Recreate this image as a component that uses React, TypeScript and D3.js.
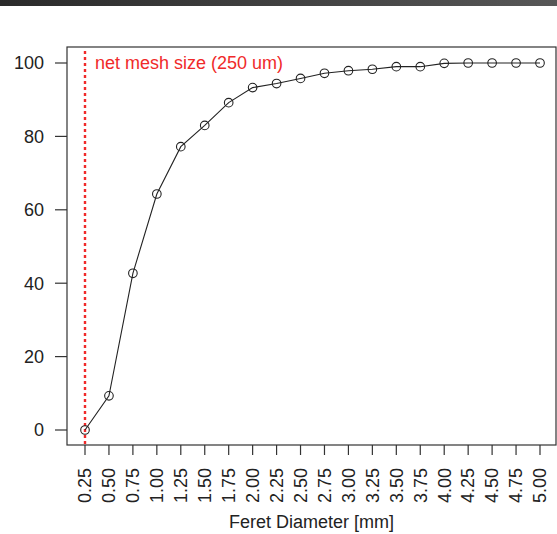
import * as d3 from 'd3';
import React, { useEffect, useRef } from 'react';

const diameters = [0.25, 0.5, 0.75, 1.0, 1.25, 1.5, 1.75, 2.0, 2.25, 2.5, 2.75, 3.0, 3.25, 3.5, 3.75, 4.0, 4.25, 4.5, 4.75, 5.0];
const cumulative = [0, 9.3, 42.7, 64.3, 77.2, 83.0, 89.2, 93.3, 94.4, 95.8, 97.2, 97.9, 98.3, 99.0, 99.0, 99.9, 100, 100, 100, 100];
const yTicks = [0, 20, 40, 60, 80, 100];
const meshSize = 0.25;
const meshLabel = 'net mesh size (250 um)';
const xTitle = 'Feret Diameter [mm]';

const App: React.FC = () => {
  const ref = useRef<SVGSVGElement>(null);

  useEffect(() => {
    if (!ref.current) return;
    const width = 557;
    const height = 534;
    const box = { left: 67, right: 556, top: 47, bottom: 445 };

    const svg = d3.select(ref.current);
    svg.selectAll('*').remove();
    svg.attr('width', width).attr('height', height);

    // dark strip along the top of the screenshot
    const grad = svg.append('defs').append('linearGradient').attr('id', 'topbar');
    grad.append('stop').attr('offset', '0%').attr('stop-color', '#2a2a2a');
    grad.append('stop').attr('offset', '100%').attr('stop-color', '#575757');
    svg.append('rect').attr('x', 0).attr('y', 0).attr('width', width).attr('height', 6).attr('fill', 'url(#topbar)');

    const x = d3.scaleLinear().domain([0.25, 5.0]).range([85, 540]);
    const y = d3.scaleLinear().domain([0, 100]).range([430, 63]);

    const font = '"Liberation Sans", Arial, sans-serif';
    const fs = '18px';

    // plot box
    svg.append('rect')
      .attr('x', box.left).attr('y', box.top)
      .attr('width', box.right - box.left).attr('height', box.bottom - box.top)
      .attr('fill', 'none').attr('stroke', '#333').attr('stroke-width', 1.2);

    // y axis
    const ya = svg.append('g');
    ya.selectAll('line').data(yTicks).enter().append('line')
      .attr('x1', 55).attr('x2', box.left)
      .attr('y1', d => y(d)).attr('y2', d => y(d))
      .attr('stroke', '#333').attr('stroke-width', 1.2);
    ya.selectAll('text').data(yTicks).enter().append('text')
      .attr('x', 44).attr('y', d => y(d)).attr('dy', '0.35em')
      .attr('text-anchor', 'end')
      .style('font-family', font).style('font-size', fs).attr('fill', '#222')
      .text(d => d);

    // x axis
    const xa = svg.append('g');
    xa.selectAll('line').data(diameters).enter().append('line')
      .attr('x1', d => x(d)).attr('x2', d => x(d))
      .attr('y1', box.bottom).attr('y2', 455)
      .attr('stroke', '#333').attr('stroke-width', 1.2);
    xa.selectAll('text').data(diameters).enter().append('text')
      .attr('transform', d => `translate(${x(d)},468) rotate(-90)`)
      .attr('dy', '0.35em')
      .attr('text-anchor', 'end')
      .style('font-family', font).style('font-size', fs).attr('fill', '#222')
      .text(d => d3.format('.2f')(d));

    svg.append('text')
      .attr('x', (box.left + box.right) / 2).attr('y', 528)
      .attr('text-anchor', 'middle')
      .style('font-family', font).style('font-size', fs).attr('fill', '#222')
      .text(xTitle);

    // mesh size line
    svg.append('line')
      .attr('x1', x(meshSize)).attr('x2', x(meshSize))
      .attr('y1', box.top + 1).attr('y2', box.bottom)
      .attr('stroke', '#f02a2a').attr('stroke-width', 2.4)
      .attr('stroke-dasharray', '3,3').attr('stroke-dashoffset', -3);
    svg.append('text')
      .attr('x', 95).attr('y', 69)
      .style('font-family', font).style('font-size', fs).attr('fill', '#f02a2a')
      .text(meshLabel);

    // curve
    const pts = diameters.map((d, i) => [d, cumulative[i]] as [number, number]);
    const line = d3.line<[number, number]>().x(d => x(d[0])).y(d => y(d[1]));
    svg.append('path').datum(pts)
      .attr('d', line)
      .attr('fill', 'none').attr('stroke', '#222').attr('stroke-width', 1.1);
    svg.selectAll('circle.pt').data(pts).enter().append('circle')
      .attr('class', 'pt')
      .attr('cx', d => x(d[0])).attr('cy', d => y(d[1]))
      .attr('r', 4.3)
      .attr('fill', 'none').attr('stroke', '#222').attr('stroke-width', 1.1);
  }, []);

  return <svg ref={ref} style={{ position: 'absolute', left: 0, top: 0, display: 'block' }} />;
};

export default App;
